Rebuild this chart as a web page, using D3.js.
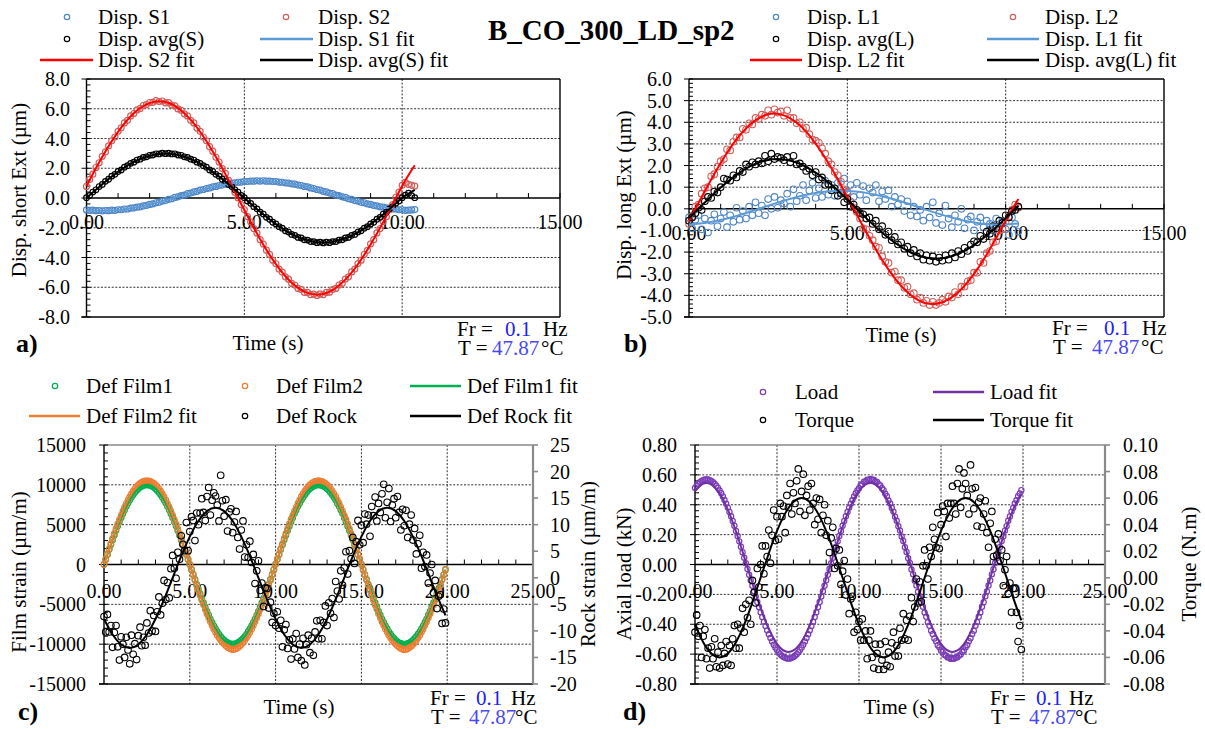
<!DOCTYPE html>
<html><head><meta charset="utf-8">
<script src="https://cdn.jsdelivr.net/npm/d3@7/dist/d3.min.js"></script>
<style>body{margin:0;background:#fff}svg{display:block}</style>
</head><body>
<svg id="chart" width="1205" height="729"></svg>
<script>
// ---------------- DATA ----------------
const chartTitle = "B_CO_300_LD_sp2";
const freqText = "0.1";
const tempText = "47.87";
// tick labels
const xTicksAB = [0, 5, 10, 15];
const xTicksCD = [0, 5, 10, 15, 20, 25];
const yTicksA = [-8, -6, -4, -2, 0, 2, 4, 6, 8];
const yTicksB = [-5, -4, -3, -2, -1, 0, 1, 2, 3, 4, 5, 6];
const yTicksC = [-15000, -10000, -5000, 0, 5000, 10000, 15000];
const yTicksCR = [-20, -15, -10, -5, 0, 5, 10, 15, 20, 25];
const yTicksD = [-0.8, -0.6, -0.4, -0.2, 0, 0.2, 0.4, 0.6, 0.8];
const yTicksDR = [-0.08, -0.06, -0.04, -0.02, 0, 0.02, 0.04, 0.06, 0.08, 0.1];

// sampling interval of measured points (s)
const sampleDt = 0.1;

// Panel a: short extensometers (µm)
const dispS1 = [-0.80,-0.83,-0.82,-0.85,-0.84,-0.86,
-0.84,-0.85,-0.82,-0.83,-0.79,-0.79,-0.74,-0.74,-0.68,-0.67,-0.61,-0.59,-0.53,-0.50,-0.43,-0.40,-0.32,-0.29,-0.21,-0.17,-0.09,-0.05,0.04,0.08,
0.16,0.20,0.29,0.33,0.41,0.45,0.53,0.57,0.64,0.68,0.75,0.78,0.84,0.87,0.93,0.95,1.00,1.02,1.06,1.07,1.11,1.11,1.14,1.13,1.16,1.14,
1.16,1.13,1.14,1.11,1.11,1.07,1.06,1.02,1.00,0.95,0.93,0.87,0.84,0.78,0.75,0.68,0.64,0.57,0.53,0.45,0.41,0.33,0.29,0.20,0.16,
0.08,0.04,-0.05,-0.09,-0.17,-0.21,-0.29,-0.32,-0.40,-0.43,-0.50,-0.53,-0.59,-0.61,-0.67,-0.68,-0.74,-0.74,-0.79,-0.79,-0.83,-0.82,-0.80,-0.78];
const dispS2 = [0.78,1.25,1.60,2.05,2.37,2.80,3.10,3.50,3.85,4.10,4.48,4.72,5.05,5.22,5.52,5.68,5.92,6.02,6.22,6.28,6.42,6.43,6.55,6.48,
6.52,6.40,6.41,6.25,6.20,5.99,5.90,5.66,5.52,5.22,5.05,4.70,4.48,4.10,3.85,3.45,3.15,2.74,2.42,1.98,1.65,1.18,0.85,0.38,0.02,
-0.44,-0.78,-1.25,-1.60,-2.05,-2.36,-2.80,-3.10,-3.51,-3.79,-4.18,-4.42,-4.78,-4.98,-5.30,-5.46,-5.74,-5.85,-6.08,-6.15,-6.34,-6.35,-6.50,-6.46,-6.55,
-6.45,-6.50,-6.35,-6.33,-6.15,-6.08,-5.85,-5.74,-5.45,-5.30,-4.97,-4.78,-4.41,-4.18,-3.78,-3.52,-3.09,-2.80,-2.35,-2.05,-1.58,-1.26,-0.77,-0.45,0.05,
0.40,0.85,1.05,0.92,0.85,0.80];
const dispAvgS = [0.02,0.17,0.40,0.55,0.77,0.91,1.12,1.26,1.47,1.59,1.78,1.89,2.07,2.17,2.33,2.41,2.55,2.61,2.73,2.77,2.87,2.89,2.97,2.96,3.02,2.98,
3.01,2.96,2.97,2.89,2.87,2.77,2.73,2.61,2.55,2.41,2.33,2.17,2.07,1.89,1.78,1.59,1.47,1.26,1.12,0.91,0.77,0.55,0.40,0.17,0.02,
-0.20,-0.36,-0.58,-0.73,-0.95,-1.08,-1.30,-1.43,-1.63,-1.74,-1.93,-2.03,-2.21,-2.29,-2.45,-2.51,-2.65,-2.69,-2.81,-2.83,-2.93,-2.93,-3.00,-2.97,-3.02,
-2.97,-3.00,-2.93,-2.93,-2.83,-2.81,-2.69,-2.65,-2.51,-2.45,-2.29,-2.21,-2.03,-1.93,-1.74,-1.63,-1.43,-1.30,-1.08,-0.95,-0.73,-0.58,-0.36,-0.20,0.02,
0.19,0.32,0.15,0.02];
const fitTimesAB = [0,0.5,1,1.5,2,2.5,3,3.5,4,4.5,5,5.5,6,6.5,7,7.5,8,8.5,9,9.5,10,10.4];
const fitS1 = [-0.80,-0.85,-0.80,-0.66,-0.44,-0.16,0.15,0.46,0.74,0.96,1.10,1.15,1.10,0.96,0.74,0.46,0.15,-0.16,-0.44,-0.66,-0.80,-0.85];
const fitS2 = [0.81,2.77,4.45,5.70,6.38,6.45,5.88,4.74,3.13,1.22,-0.81,-2.77,-4.45,-5.70,-6.38,-6.45,-5.88,-4.74,-3.13,-1.22,0.81,2.20];
const fitAvgS = [0,0.93,1.76,2.43,2.85,3.00,2.85,2.43,1.76,0.93,0,-0.93,-1.76,-2.43,-2.85,-3.00,-2.85,-2.43,-1.76,-0.93,0,0.55];

// Panel b: long extensometers (µm)
const dispL1 = [-0.40,-0.90,-0.50,-0.30,-0.95,-0.45,-1.10,-0.55,-0.25,-0.80,-0.45,-0.15,-0.85,-0.30,-0.60,0.05,-0.50,-0.10,-0.45,0.10,-0.30,0.30,-0.20,
0.15,-0.30,0.45,0.00,0.55,0.05,0.40,0.25,0.70,0.10,0.90,0.35,0.60,1.10,0.40,0.85,1.20,0.50,0.95,0.55,1.30,0.65,1.10,0.60,1.20,0.75,
1.40,0.80,1.10,0.55,1.20,0.65,1.05,0.40,0.95,0.75,1.10,0.35,0.80,0.45,0.85,0.10,0.55,0.20,0.45,-0.10,0.35,-0.30,0.10,-0.35,-0.05,
-0.55,0.10,-0.40,0.30,-0.65,-0.20,-0.75,0.15,-0.45,-0.85,-0.30,-0.60,0.00,-0.90,-0.50,-0.35,-1.00,-0.60,-0.40,-0.85,-0.55,-0.70,-1.00,-0.45,-0.80,
-0.60,-0.95,-1.20,-0.40,-0.70,-1.05];
const dispL2 = [-0.70,-0.35,
0.10,0.20,0.70,0.95,1.00,1.50,1.60,1.95,2.20,2.30,2.75,2.70,3.10,3.30,3.30,3.70,3.65,3.95,3.90,4.20,4.15,4.35,4.30,4.55,4.35,4.60,
4.45,4.50,4.30,4.55,4.20,4.20,3.95,4.00,3.70,3.75,3.45,3.20,3.15,3.05,2.80,2.55,2.20,2.05,1.70,1.55,1.25,0.90,0.75,0.35,0.05,
-0.15,-0.45,-0.90,-0.95,-1.25,-1.45,-1.75,-1.80,-2.20,-2.45,-2.50,-2.95,-2.90,-3.30,-3.30,-3.65,-3.60,-3.95,-3.90,-4.20,-4.10,-4.35,-4.25,-4.45,-4.30,
-4.45,-4.35,-4.20,-4.30,-4.05,-4.10,-3.85,-3.95,-3.60,-3.60,-3.35,-3.30,-2.95,-2.95,-2.45,-2.50,-2.05,-1.95,-1.55,-1.50,-1.00,-0.95,-0.60,-0.35,-0.05,
0.20,0.05];
const dispAvgL = [-0.55,-0.40,-0.20,
0.05,-0.05,0.35,0.55,0.50,0.80,0.75,1.00,1.40,1.35,1.30,1.55,1.45,1.75,1.70,2.05,1.95,2.15,2.05,2.20,2.10,2.45,2.20,2.55,2.30,2.40,
2.35,2.25,2.40,2.15,2.45,2.05,2.10,1.95,1.75,1.85,1.55,1.70,1.35,1.45,1.10,1.15,0.85,0.95,0.60,0.70,0.30,0.45,0.10,0.20,-0.05,
-0.20,-0.25,-0.45,-0.40,-0.70,-0.55,-0.95,-0.80,-1.20,-1.05,-1.45,-1.30,-1.65,-1.55,-1.85,-1.75,-2.05,-1.90,-2.20,-2.05,-2.35,-2.15,-2.40,-2.20,-2.45,
-2.25,-2.40,-2.15,-2.35,-2.05,-2.25,-1.95,-2.10,-1.80,-1.95,-1.65,-1.50,-1.55,-1.25,-1.40,-1.05,-1.15,-0.80,-0.90,-0.55,-0.65,-0.30,-0.40,-0.10,-0.05,
0.10];
const fitL1 = [-0.72,-0.66,-0.52,-0.33,-0.10,0.15,0.38,0.58,0.73,0.82,0.82,0.76,0.62,0.43,0.20,-0.05,-0.28,-0.48,-0.63,-0.72,-0.72,-0.68];
const fitL2 = [-0.55,0.82,2.12,3.21,3.98,4.37,4.32,3.86,3.01,1.87,0.55,-0.82,-2.12,-3.21,-3.98,-4.37,-4.32,-3.86,-3.01,-1.87,-0.55,0.45];
const fitAvgL = [-0.43,0.29,0.98,1.57,2.02,2.26,2.28,2.08,1.68,1.11,0.43,-0.29,-0.98,-1.57,-2.02,-2.26,-2.28,-2.08,-1.68,-1.11,-0.43,0.14];

// Panel c: strain gauges (µm/m)
const defFilm1 = [0,630,1250,1870,2490,3090,3680,4260,4820,5360,5880,6370,6850,7290,7710,8090,8440,8760,9050,9300,9510,9690,9820,9920,9980,10000,
9980,9920,9820,9690,9510,9300,9050,8760,8440,8090,7710,7290,6850,6370,5880,5360,4820,4260,3680,3090,2490,1870,1250,630,0,
-630,-1250,-1870,-2490,-3090,-3680,-4260,-4820,-5360,-5880,-6370,-6850,-7290,-7710,-8090,-8440,-8760,-9050,-9300,-9510,-9690,-9820,-9920,-9980,-10000,
-9980,-9920,-9820,-9690,-9510,-9300,-9050,-8760,-8440,-8090,-7710,-7290,-6850,-6370,-5880,-5360,-4820,-4260,-3680,-3090,-2490,-1870,-1250,-630,
20,650,1240,1890,2470,3110,3670,4280,4800,5380,5870,6390,6840,7310,7700,8100,8430,8770,9040,9310,9500,9700,9810,9930,9970,10010,
9970,9930,9810,9700,9500,9310,9040,8770,8430,8100,7700,7310,6840,6390,5870,5380,4800,4280,3670,3110,2470,1890,1240,650,10,
-620,-1260,-1860,-2500,-3080,-3690,-4250,-4830,-5350,-5890,-6360,-6860,-7280,-7720,-8080,-8450,-8750,-9060,-9290,-9520,-9680,-9830,-9910,-9990,-9990,
-9990,-9910,-9830,-9680,-9520,-9290,-9060,-8750,-8450,-8080,-7720,-7280,-6860,-6360,-5890,-5350,-4830,-4250,-3690,-3080,-2500,-1860,-1260,-620];
const defFilm2 = [0,660,1320,1970,2610,3240,3870,4470,5060,5630,6170,6690,7190,7650,8090,8490,8870,9200,9500,9760,9990,10170,10310,10420,10480,10500,
10480,10420,10310,10170,9990,9760,9500,9200,8870,8490,8090,7650,7190,6690,6170,5630,5060,4470,3870,3240,2610,1970,1320,660,0,
-660,-1320,-1970,-2610,-3240,-3870,-4470,-5060,-5630,-6170,-6690,-7190,-7650,-8090,-8490,-8870,-9200,-9500,-9760,-9990,-10200,-10380,-10520,-10620,-10680,
-10650,-10560,-10420,-10250,-10050,-9780,-9500,-9200,-8870,-8490,-8090,-7650,-7190,-6690,-6170,-5630,-5060,-4470,-3870,-3240,-2610,-1970,-1320,-660,
30,690,1300,1990,2600,3260,3860,4490,5050,5650,6160,6710,7180,7670,8080,8510,8860,9220,9490,9780,9980,10190,10300,10440,10470,10520,
10470,10440,10300,10190,9980,9780,9490,9220,8860,8510,8080,7670,7180,6710,6160,5650,5050,4490,3860,3260,2600,1990,1300,690,20,
-640,-1310,-1950,-2620,-3230,-3880,-4460,-5070,-5620,-6180,-6680,-7200,-7640,-8100,-8480,-8880,-9190,-9510,-9750,-10000,-10210,-10390,-10530,-10630,-10690,
-10660,-10570,-10430,-10260,-10040,-9790,-9510,-9190,-8880,-8480,-8100,-7640,-7200,-6680,-6180,-5620,-5070,-4460,-3880,-3230,-2620,-1950,-1310,-640];
const defRock = [-7.3,-10.2,-6.9,-10.2,-9.0,-13.1,-10.3,-9.0,-13.0,-15.5,
-11.1,-12.5,-15.0,-11.2,-13.6,-16.2,-10.8,-14.4,-12.4,-15.4,
-10.9,-9.3,-12.8,-11.2,-12.7,-8.5,-10.4,-6.2,-10.0,-7.1,
-10.1,-6.4,-3.6,-7.0,-4.8,-0.5,-4.1,-0.9,-3.8,1.7,
4.2,1.8,-0.1,4.8,3.5,7.9,6.3,5.1,10.4,5.1,
8.7,11.5,10.8,7.0,12.2,10.0,12.2,14.9,12.3,10.8,
15.3,17.0,11.8,14.6,16.0,15.4,13.7,10.7,19.3,14.5,
11.6,14.7,8.8,12.4,13.0,8.5,10.5,12.5,7.6,5.4,
9.0,10.7,3.9,6.2,3.8,6.9,2.9,4.4,-1.1,1.3,
3.2,-2.4,-1.0,-5.4,-1.9,-2.0,-5.7,-4.6,-8.4,-6.7,
-9.0,-6.4,-9.5,-8.0,-13.0,-9.8,-8.8,-13.3,-11.7,-15.3,
-11.5,-13.4,-10.5,-15.0,-12.5,-15.6,-11.4,-16.4,-12.6,-10.8,
-14.1,-11.4,-14.6,-10.2,-8.1,-11.5,-8.0,-11.5,-8.4,-5.3,
-9.0,-4.7,-6.7,-3.9,-7.5,-0.7,-2.5,-4.0,1.3,-1.4,
1.9,4.9,0.7,5.1,3.6,7.6,2.7,6.8,10.8,6.2,
9.9,6.6,12.0,10.1,11.8,7.8,13.4,11.7,15.2,10.7,
14.0,12.3,15.8,17.6,11.3,14.2,16.8,10.6,13.7,14.9,
11.3,15.3,12.3,9.0,12.9,9.8,12.7,7.6,10.1,11.8,
7.1,9.3,4.5,6.4,8.0,1.8,4.8,2.1,4.3,-1.0,
0.9,2.5,-2.8,-0.5,-5.8,-3.5,-3.2,-8.6,-5.9,-8.5];
const fitTimesCD = [0,0.5,1,1.5,2,2.5,3,3.5,4,4.5,5,5.5,6,6.5,7,7.5,8,8.5,9,9.5,10,10.5,11,11.5,12,12.5,13,13.5,14,14.5,15,15.5,16,16.5,17,17.5,18,18.5,19,19.5,19.9];
const fitFilm1 = [0,3090,5880,8090,9510,10000,9510,8090,5880,3090,0,-3090,-5880,-8090,-9510,-10000,-9510,-8090,-5880,-3090,
0,3090,5880,8090,9510,10000,9510,8090,5880,3090,0,-3090,-5880,-8090,-9510,-10000,-9510,-8090,-5880,-3090,-630];
const fitFilm2 = [0,3240,6170,8490,9990,10500,9990,8490,6170,3240,0,-3240,-6170,-8490,-9990,-10500,-9990,-8490,-6170,-3240,
0,3240,6170,8490,9990,10500,9990,8490,6170,3240,0,-3240,-6170,-8490,-9990,-10500,-9990,-8490,-6170,-3240,-660];
const fitRock = [-7.76,-10.68,-12.55,-13.2,-12.55,-10.68,-7.76,-4.08,0,4.08,7.76,10.68,12.55,13.2,12.55,10.68,7.76,4.08,0,-4.08,
-7.76,-10.68,-12.55,-13.2,-12.55,-10.68,-7.76,-4.08,0,4.08,7.76,10.68,12.55,13.2,12.55,10.68,7.76,4.08,0,-4.08,-7.07];

// Panel d: load (kN) and torque (N.m)
const axialLoad = [0.513,0.528,0.541,0.551,0.559,0.565,0.569,0.570,
0.569,0.565,0.559,0.551,0.541,0.528,0.513,0.496,0.477,0.455,0.432,0.407,0.381,0.352,0.323,0.291,0.259,0.225,0.191,0.155,0.119,0.082,0.045,0.008,-0.030,
-0.068,-0.105,-0.142,-0.179,-0.215,-0.251,-0.285,-0.319,-0.351,-0.383,-0.412,-0.441,-0.467,-0.492,-0.515,-0.537,-0.556,-0.573,-0.588,-0.601,-0.611,-0.619,-0.625,-0.629,-0.630,
-0.629,-0.625,-0.619,-0.611,-0.601,-0.588,-0.573,-0.556,-0.537,-0.515,-0.492,-0.467,-0.441,-0.412,-0.383,-0.351,-0.319,-0.285,-0.251,-0.215,-0.179,-0.142,-0.105,-0.068,-0.030,
0.008,0.045,0.082,0.119,0.155,0.191,0.225,0.259,0.291,0.323,0.352,0.381,0.407,0.432,0.455,0.477,0.496,
0.510,0.531,0.538,0.554,0.556,0.567,0.566,0.572,
0.566,0.567,0.556,0.553,0.538,0.530,0.510,0.498,0.474,0.457,0.429,0.409,0.378,0.354,0.320,0.293,0.256,0.227,0.188,0.157,0.116,0.084,0.042,0.010,-0.033,
-0.066,-0.108,-0.140,-0.182,-0.213,-0.254,-0.283,-0.322,-0.349,-0.386,-0.410,-0.444,-0.465,-0.495,-0.513,-0.540,-0.554,-0.576,-0.586,-0.604,-0.609,-0.622,-0.623,-0.632,-0.628,
-0.631,-0.623,-0.621,-0.609,-0.603,-0.586,-0.575,-0.554,-0.539,-0.513,-0.494,-0.465,-0.443,-0.410,-0.385,-0.349,-0.321,-0.283,-0.253,-0.213,-0.181,-0.140,-0.107,-0.066,-0.032,
0.010,0.043,0.084,0.117,0.157,0.189,0.227,0.257,0.293,0.321,0.354,0.379,0.409,0.430,0.457,0.475,0.498];
const torque = [-0.041,-0.028,-0.044,-0.036,-0.060,-0.044,-0.039,-0.061,-0.053,-0.068,
-0.052,-0.061,-0.046,-0.067,-0.056,-0.068,-0.051,-0.066,-0.057,-0.048,
-0.065,-0.051,-0.066,-0.046,-0.036,-0.053,-0.035,-0.053,-0.038,-0.023,
-0.041,-0.020,-0.030,-0.017,-0.035,-0.002,-0.011,-0.019,0.007,-0.007,
0.010,0.024,0.003,0.024,0.016,0.036,0.011,0.032,0.051,0.028,
0.046,0.029,0.056,0.046,0.054,0.034,0.062,0.053,0.071,0.048,
0.064,0.056,0.073,0.082,0.050,0.065,0.078,0.047,0.062,0.069,
0.051,0.071,0.056,0.040,0.060,0.044,0.059,0.034,0.047,0.055,
0.032,0.043,0.019,0.030,0.038,0.007,0.022,0.009,0.021,-0.005,
0.005,0.013,-0.013,-0.001,-0.027,-0.016,-0.014,-0.041,-0.026,-0.039,
-0.033,-0.047,-0.031,-0.047,-0.040,-0.061,-0.047,-0.040,-0.060,-0.068,
-0.050,-0.057,-0.069,-0.050,-0.062,-0.069,-0.048,-0.066,-0.056,-0.067,
-0.049,-0.041,-0.059,-0.051,-0.059,-0.038,-0.047,-0.027,-0.046,-0.032,
-0.047,-0.029,-0.015,-0.033,-0.022,-0.001,-0.019,-0.003,-0.018,0.009,
0.021,0.009,-0.001,0.023,0.016,0.038,0.029,0.023,0.049,0.022,
0.040,0.054,0.050,0.031,0.056,0.045,0.056,0.069,0.056,0.048,
0.071,0.082,0.053,0.067,0.079,0.071,0.062,0.048,0.085,0.067,
0.052,0.068,0.039,0.057,0.060,0.038,0.048,0.058,0.034,0.023,
0.041,0.050,0.016,0.029,0.017,0.033,0.013,0.021,-0.006,0.006,
0.016,-0.012,-0.004,-0.026,-0.008,-0.008,-0.026,-0.048,-0.036,-0.054];
const fitLoad = [0.491,0.541,0.535,0.475,0.367,0.221,0.051,-0.126,-0.292,-0.432,-0.531,-0.581,-0.575,-0.515,-0.407,-0.261,-0.091,0.086,0.252,0.392,
0.491,0.541,0.535,0.475,0.367,0.221,0.051,-0.126,-0.292,-0.432,-0.531,-0.581,-0.575,-0.515,-0.407,-0.261,-0.091,0.086,0.252,0.392,0.475];
const fitTorque = [-0.0353,-0.0485,-0.0571,-0.06,-0.0571,-0.0485,-0.0353,-0.0185,0,0.0185,0.0353,0.0485,0.0571,0.06,0.0571,0.0485,0.0353,0.0185,0,-0.0185,
-0.0353,-0.0485,-0.0571,-0.06,-0.0571,-0.0485,-0.0353,-0.0185,0,0.0185,0.0353,0.0485,0.0571,0.06,0.0571,0.0485,0.0353,0.0185,0,-0.0185,-0.0321];

// ---------------- CHECK ----------------
(function(){
  const chk = {dispS1:[dispS1,105],dispS2:[dispS2,105],dispAvgS:[dispAvgS,105],dispL1:[dispL1,105],dispL2:[dispL2,105],dispAvgL:[dispAvgL,105],
    defFilm1:[defFilm1,200],defFilm2:[defFilm2,200],defRock:[defRock,200],axialLoad:[axialLoad,200],torque:[torque,200],
    fitS1:[fitS1,22],fitS2:[fitS2,22],fitAvgS:[fitAvgS,22],fitL1:[fitL1,22],fitL2:[fitL2,22],fitAvgL:[fitAvgL,22],
    fitFilm1:[fitFilm1,41],fitFilm2:[fitFilm2,41],fitRock:[fitRock,41],fitLoad:[fitLoad,41],fitTorque:[fitTorque,41]};
  const bad = Object.entries(chk).filter(([k,[a,n]])=>a.length!==n).map(([k,[a,n]])=>k+':'+a.length+'/'+n);
  if (bad.length) throw new Error('Length mismatch ' + bad.join(', '));
})();

// ---------------- DRAW ----------------
const svg = d3.select('#chart');
svg.append('rect').attr('width',1205).attr('height',729).attr('fill','#fff');
const FONT = "'Times New Roman','Liberation Serif',serif";
const BLUE_FR = '#2020f5';
const BLUE_T = '#4848f8';

function line(g,x1,y1,x2,y2,st){
  const l = g.append('line').attr('x1',x1).attr('y1',y1).attr('x2',x2).attr('y2',y2).attr('stroke-width',1);
  for (const k in st) l.attr(k, st[k]);
  return l;
}
function txt(g,x,y,s,o={}){
  return g.append('text').attr('x',x).attr('y',y).text(s)
    .attr('font-family',FONT).attr('font-size',o.size||21)
    .attr('fill',o.fill||'#000').attr('text-anchor',o.anchor||'start')
    .attr('font-weight',o.weight||'normal');
}

function drawPanel(p){
  const g = svg.append('g');
  const x = d3.scaleLinear().domain([0,p.xMax]).range([p.x0,p.x1]);
  const y = d3.scaleLinear().domain(p.yDom).range([p.y1,p.y0]);
  const yr = p.right ? d3.scaleLinear().domain(p.right.dom).range([p.y1,p.y0]) : null;
  const zy = y(0);
  const grid = {stroke:'#303030','stroke-dasharray':'2,1.6'};
  p.yTicks.filter(v=>v!==0 && v!==p.yDom[0] && v!==p.yDom[1]).forEach(v=>line(g,p.x0,y(v),p.x1,y(v),grid));
  p.xTicks.filter(v=>v>0 && v<p.xMax).forEach(v=>line(g,x(v),p.y0,x(v),p.y1,grid));
  // frame
  line(g,p.x0,p.y0,p.x1,p.y0,{stroke:p.frame,'stroke-width':1.4});
  if (!p.right) line(g,p.x1,p.y0,p.x1,p.y1,{stroke:p.frame,'stroke-width':1.4});
  line(g,p.x0-5,p.y1,p.x1,p.y1,{stroke:'#000','stroke-width':1.4});
  line(g,p.x0,p.y0,p.x0,p.y1,{stroke:'#000','stroke-width':1.4});
  // left ticks
  p.yTicks.forEach(v=>line(g,p.x0-5,y(v),p.x0,y(v),{stroke:'#000'}));
  const n = Math.round((p.yDom[1]-p.yDom[0])/p.yMinor);
  for (let i=0;i<=n;i++){ const v=p.yDom[0]+i*p.yMinor; line(g,p.x0,y(v),p.x0+4,y(v),{stroke:'#000'}); }
  // zero axis with minor ticks every 1 s
  line(g,p.x0,zy,p.x1,zy,{stroke:'#000','stroke-width':1.4});
  for (let t=1;t<=p.xMax;t++) line(g,x(t),zy-5,x(t),zy,{stroke:'#000'});
  if (p.right){
    line(g,p.x1,p.y0,p.x1,p.y1,{stroke:'#8a8a8a','stroke-width':2.2});
    p.right.ticks.forEach(v=>line(g,p.x1,yr(v),p.x1+5,yr(v),{stroke:'#8a8a8a','stroke-width':1.6}));
    p.right.ticks.forEach(v=>txt(g,p.right.labelX,yr(v)+7,p.right.fmt(v),{size:20}));
  }
  p.yTicks.forEach(v=>txt(g,p.yLabelX,y(v)+7,p.yFmt(v),{anchor:'end',size:20}));
  p.xTicks.forEach(v=>txt(g,x(v),zy+p.xLabelDy,v.toFixed(2),{anchor:'middle',size:20}));
  return {g,x,y,yr};
}

function pts(P,vals,yS,color,r,sw){
  P.g.append('g').selectAll('circle').data(vals).join('circle')
    .attr('cx',(d,i)=>P.x(i*sampleDt)).attr('cy',d=>yS(d)).attr('r',r)
    .attr('fill','none').attr('stroke',color).attr('stroke-width',sw);
}
function fit(P,times,vals,yS,color,w){
  P.g.append('path').datum(vals.map((v,i)=>[times[i],v]))
    .attr('d',d3.line().x(d=>P.x(d[0])).y(d=>yS(d[1])).curve(d3.curveNatural))
    .attr('fill','none').attr('stroke',color).attr('stroke-width',w);
}
function legMarker(x,y,c){ svg.append('circle').attr('cx',x).attr('cy',y).attr('r',2.7).attr('fill','none').attr('stroke',c).attr('stroke-width',1.2); }
function legLine(x1,x2,y,c){ line(svg,x1,y,x2,y,{stroke:c,'stroke-width':2.6}); }
function footer(lbl,lx,ly,tx,ty,fx,fy,fvx,hzx,tvx,cx){
  txt(svg,lx,ly,lbl,{size:26,weight:'bold'});
  txt(svg,tx,ty,'Time (s)',{anchor:'middle'});
  txt(svg,fx,fy,'Fr =');
  txt(svg,fvx,fy,freqText,{fill:BLUE_FR});
  txt(svg,hzx,fy,'Hz');
  txt(svg,fx+1,fy+19,'T =');
  txt(svg,tvx,fy+19,tempText,{fill:BLUE_T});
  txt(svg,cx,fy+19,'°C');
}
function yTitle(x,y,s){ svg.append('text').attr('transform',`translate(${x},${y}) rotate(-90)`).attr('text-anchor','middle')
  .attr('font-family',FONT).attr('font-size',21).text(s); }

const C = {s1:'#4f86c6', s1fit:'#5b9bd5', s2:'#d0605c', s2fit:'#ff0000', blk:'#000',
  f1:'#00b050', f2:'#ed7d31', load:'#7a3cb8', loadFit:'#7030a0'};
const f1 = v=>v.toFixed(1), f2 = v=>v.toFixed(2), fi = v=>String(v);

// Title
txt(svg,488,40,chartTitle,{size:29,weight:'bold'});

// ---- Panel a ----
const A = drawPanel({x0:86.5,x1:560,y0:79,y1:317,xMax:15,xTicks:xTicksAB,yDom:[-8,8],yTicks:yTicksA,yMinor:0.4,
  yFmt:f1,yLabelX:70,xLabelDy:31,frame:'#000'});
pts(A,dispS1,A.y,C.s1,3,1.2);
pts(A,dispS2,A.y,C.s2,3,1.2);
pts(A,dispAvgS,A.y,C.blk,2.8,1.2);
fit(A,fitTimesAB,fitS1,A.y,C.s1fit,2);
fit(A,fitTimesAB,fitS2,A.y,C.s2fit,2);
fit(A,fitTimesAB,fitAvgS,A.y,C.blk,2);
legMarker(67,17,C.s1); txt(svg,98,24,'Disp. S1');
legMarker(286,17,C.s2); txt(svg,318,24,'Disp. S2');
legMarker(67,39,C.blk); txt(svg,98,46,'Disp. avg(S)');
legLine(260,313,39,C.s1fit); txt(svg,318,46,'Disp. S1 fit');
legLine(40,93,60,C.s2fit); txt(svg,98,67,'Disp. S2 fit');
legLine(260,313,60,C.blk); txt(svg,318,67,'Disp. avg(S) fit');
yTitle(26,190,'Disp. short Ext (µm)');
footer('a)',16,352,268,350,457,336,505,543,492,541);

// ---- Panel b ----
const B = drawPanel({x0:689,x1:1164,y0:79,y1:317,xMax:15,xTicks:xTicksAB,yDom:[-5,6],yTicks:yTicksB,yMinor:0.2,
  yFmt:f1,yLabelX:672,xLabelDy:31,frame:'#000'});
pts(B,dispL1,B.y,C.s1,3.3,1.1);
pts(B,dispL2,B.y,C.s2,3.3,1.1);
pts(B,dispAvgL,B.y,C.blk,3.3,1.1);
fit(B,fitTimesAB,fitL1,B.y,C.s1fit,2);
fit(B,fitTimesAB,fitL2,B.y,C.s2fit,2);
fit(B,fitTimesAB,fitAvgL,B.y,C.blk,2);
legMarker(776,17,C.s1); txt(svg,807,24,'Disp. L1');
legMarker(1013,17,C.s2); txt(svg,1045,24,'Disp. L2');
legMarker(776,39,C.blk); txt(svg,807,46,'Disp. avg(L)');
legLine(987,1039,39,C.s1fit); txt(svg,1045,46,'Disp. L1 fit');
legLine(750,802,60,C.s2fit); txt(svg,807,67,'Disp. L2 fit');
legLine(987,1039,60,C.blk); txt(svg,1045,67,'Disp. avg(L) fit');
yTitle(631,195,'Disp. long Ext (µm)');
footer('b)',624,352,901,342,1052,335,1104,1142,1092,1141);

// ---- Panel c ----
const Cp = drawPanel({x0:104,x1:533,y0:445,y1:684,xMax:25,xTicks:xTicksCD,yDom:[-15000,15000],yTicks:yTicksC,yMinor:1000,
  yFmt:fi,yLabelX:86,xLabelDy:33,frame:'#8a8a8a',right:{dom:[-20,25],ticks:yTicksCR,labelX:550,fmt:fi}});
pts(Cp,defFilm1,Cp.y,C.f1,2.8,1.2);
pts(Cp,defFilm2,Cp.y,C.f2,2.8,1.2);
fit(Cp,fitTimesCD,fitFilm1,Cp.y,C.f1,2);
fit(Cp,fitTimesCD,fitFilm2,Cp.y,C.f2,2);
pts(Cp,defRock,Cp.yr,C.blk,3.3,1.1);
fit(Cp,fitTimesCD,fitRock,Cp.yr,C.blk,2);
legMarker(55,386,C.f1); txt(svg,86,393,'Def Film1');
legMarker(245,386,C.f2); txt(svg,276,393,'Def Film2');
legLine(410,461,386,C.f1); txt(svg,467,393,'Def Film1 fit');
legLine(29,80,416,C.f2); txt(svg,86,423,'Def Film2 fit');
legMarker(245,416,C.blk); txt(svg,276,423,'Def Rock');
legLine(410,461,416,C.blk); txt(svg,467,423,'Def Rock fit');
yTitle(26,572,'Film strain (µm/m)');
yTitle(595,564,'Rock strain (µm/m)');
footer('c)',18,720,299,714,430,705,476,511,469,515);

// ---- Panel d ----
const D = drawPanel({x0:695,x1:1105,y0:445,y1:684,xMax:25,xTicks:xTicksCD,yDom:[-0.8,0.8],yTicks:yTicksD,yMinor:0.04,
  yFmt:f2,yLabelX:677,xLabelDy:33,frame:'#8a8a8a',right:{dom:[-0.08,0.1],ticks:yTicksDR,labelX:1123,fmt:f2}});
pts(D,axialLoad,D.y,C.load,2.6,1.2);
fit(D,fitTimesCD,fitLoad,D.y,C.loadFit,2);
pts(D,torque,D.yr,C.blk,3.3,1.1);
fit(D,fitTimesCD,fitTorque,D.yr,C.blk,2);
legMarker(763,392,C.load); txt(svg,795,399,'Load');
legLine(933,984,392,C.loadFit); txt(svg,990,399,'Load fit');
legMarker(763,420,C.blk); txt(svg,795,427,'Torque');
legLine(933,984,420,C.blk); txt(svg,990,427,'Torque fit');
yTitle(631,574,'Axial load (kN)');
yTitle(1196,564,'Torque (N.m)');
footer('d)',623,720,899,714,990,705,1036,1069,1029,1075);
</script>
</body></html>
